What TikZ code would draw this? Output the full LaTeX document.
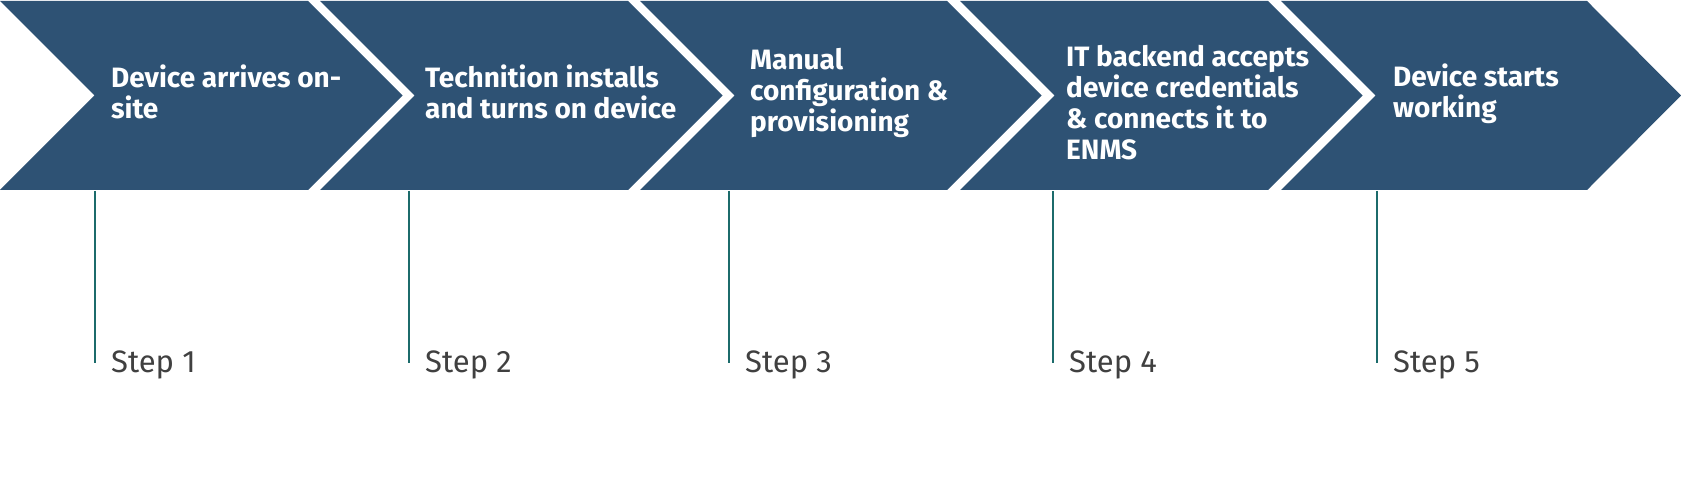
\documentclass[tikz,border=0pt]{standalone}
\usepackage{fontspec}
\setmainfont{Fira Sans}
\usepackage{tikz}
\usetikzlibrary{positioning}

\definecolor{chevblue}{HTML}{2E5274}
\definecolor{stepteal}{HTML}{1C6B6B}
\definecolor{stepgrey}{HTML}{404040}

\begin{document}
\begin{tikzpicture}[x=1pt,y=-1pt,
	chev_shape/.style={fill=chevblue},
	chev_text/.style={anchor=base west,align=left,inner sep=0pt,text=white,font=\fontsize{28}{31}\selectfont\bfseries},
	step_line/.style={draw=stepteal,line width=1.2pt},
	step_label/.style={anchor=base west,inner sep=0pt,text=stepgrey,font=\fontsize{31}{36}\selectfont}]
		
		\useasboundingbox (0,0) rectangle (1681,486);
		
		% chevrons
		\fill[chev_shape] (0,1) -- (308,1) -- (402.5,95.5) -- (308,190) -- (0,190) -- (94.5,95.5) -- cycle;
		\fill[chev_shape] (320,1) -- (628,1) -- (722.5,95.5) -- (628,190) -- (320,190) -- (414.5,95.5) -- cycle;
		\fill[chev_shape] (640,1) -- (947,1) -- (1041.5,95.5) -- (947,190) -- (640,190) -- (734.5,95.5) -- cycle;
		\fill[chev_shape] (960,1) -- (1268,1) -- (1362.5,95.5) -- (1268,190) -- (960,190) -- (1054.5,95.5) -- cycle;
		\fill[chev_shape] (1281,1) -- (1587,1) -- (1681,95.5) -- (1587,190) -- (1281,190) -- (1375.5,95.5) -- cycle;
		
		% texts (anchored at the baseline of the last line)
		\node[chev_text] (t1) at (111,119) {Device arrives on-\\site};
		\node[chev_text] (t2) at (425,119) {Technition installs\\and turns on device};
		\node[chev_text] (t3) at (750,132) {Manual\\configuration \&\\provisioning};
		\node[chev_text] (t4) at (1066,160) {IT backend accepts\\device credentials\\\& connects it to\\ENMS};
		\node[chev_text] (t5) at (1393,118) {Device starts\\working};
		
		% step markers
		\coordinate (a1) at (95,191);   \coordinate (b1) at (95,363);
		\coordinate (a2) at (409,191);  \coordinate (b2) at (409,363);
		\coordinate (a3) at (729,191);  \coordinate (b3) at (729,363);
		\coordinate (a4) at (1053,191); \coordinate (b4) at (1053,363);
		\coordinate (a5) at (1377,191); \coordinate (b5) at (1377,363);
		
		\draw[step_line] (a1) -- (b1);
		\draw[step_line] (a2) -- (b2);
		\draw[step_line] (a3) -- (b3);
		\draw[step_line] (a4) -- (b4);
		\draw[step_line] (a5) -- (b5);
		
		\node[step_label] (s1) at (111,372) {Step 1};
		\node[step_label] (s2) at (425,372) {Step 2};
		\node[step_label] (s3) at (745,372) {Step 3};
		\node[step_label] (s4) at (1069,372) {Step 4};
		\node[step_label] (s5) at (1393,372) {Step 5};
		\end{tikzpicture}
\end{document}
